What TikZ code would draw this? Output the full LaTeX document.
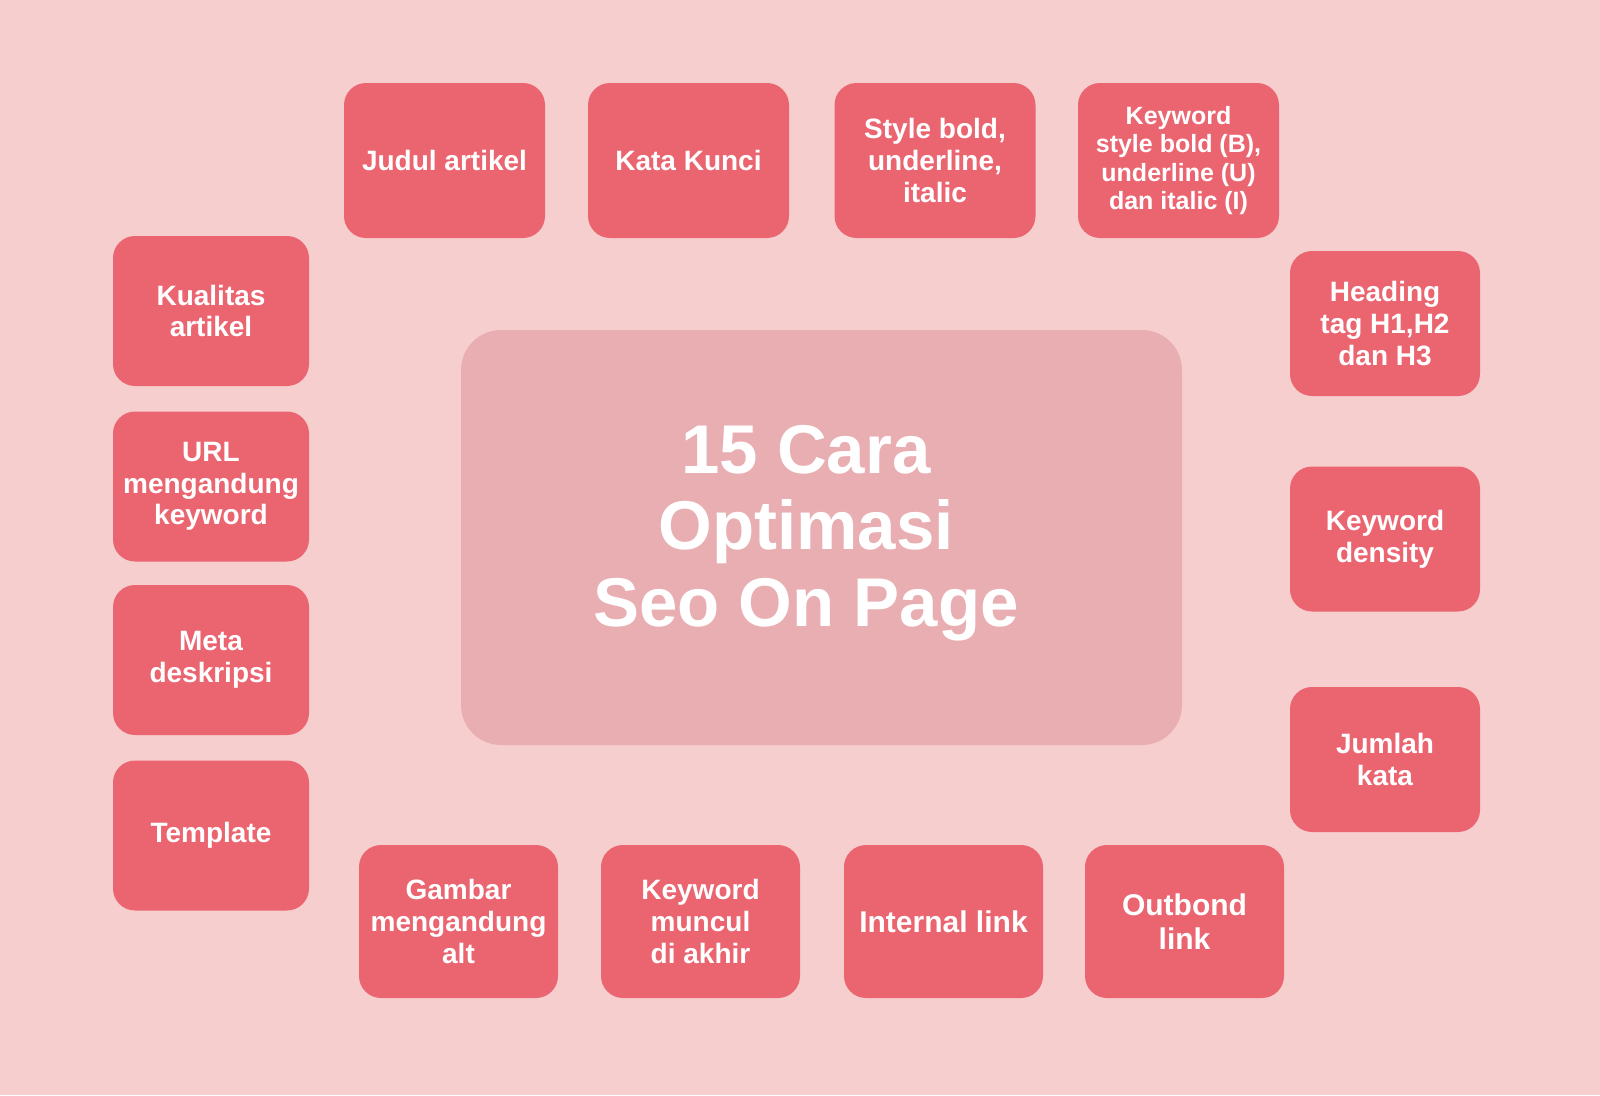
\documentclass[tikz,border=0pt]{standalone}
\usepackage{fontspec}
\setmainfont{Liberation Sans}
\definecolor{bgpink}{HTML}{F7CECE}
\definecolor{tipred}{HTML}{EB6571}
\definecolor{midpink}{HTML}{E9AEB2}
\begin{document}
\begin{tikzpicture}[x=1pt,y=-1pt,
tip/.style={fill=tipred, rounded corners=22pt, inner sep=0pt, align=center,
  text=white, font=\bfseries\fontsize{28}{31.6}\selectfont},
toprow/.style={tip, minimum width=201pt, minimum height=155pt},
botrow/.style={tip, minimum width=199pt, minimum height=153pt},
leftcol/.style={tip, minimum width=196pt, minimum height=150pt},
rightcol/.style={tip, minimum width=190pt, minimum height=145pt}]
\fill[bgpink] (0,0) rectangle (1600,1095);
\fill[midpink, rounded corners=40pt] (461,330) rectangle (1182,745);
\node[text=white, align=center, font=\bfseries\fontsize{69}{76.5}\selectfont] (title) at (806,533) {15 Cara\\Optimasi\\Seo On Page};

% top row
\node[toprow] (judul) at (444.5,160.5) {Judul artikel};
\node[toprow] (kunci) at (688.5,160.5) {Kata Kunci};
\node[toprow] (style) at (935,160.5) {Style bold,\\underline,\\italic};
\node[toprow, font=\bfseries\fontsize{25}{28.5}\selectfont] (kwstyle) at (1178.5,160.5) {Keyword\\style bold (B),\\underline (U)\\dan italic (I)};

% right column
\node[rightcol] (heading) at (1385,323.5) {Heading\\tag H1,H2\\dan H3};
\node[rightcol] (density) at (1385,539) {Keyword\\density};
\node[rightcol] (jumlah) at (1385,759.5) {Jumlah\\kata};

% bottom row
\node[botrow, font=\bfseries\fontsize{30}{33.5}\selectfont] (outbond) at (1184.5,921.5) {Outbond\\link};
\node[botrow, font=\bfseries\fontsize{30}{33.5}\selectfont] (internal) at (943.5,921.5) {Internal link};
\node[botrow] (akhir) at (700.5,921.5) {Keyword\\muncul\\di akhir};
\node[botrow] (gambar) at (458.5,921.5) {Gambar\\mengandung\\alt};

% left column
\node[leftcol] (template) at (211,835.5) {Template};
\node[leftcol] (meta) at (211,660) {Meta\\deskripsi};
\node[leftcol] (url) at (211,486.5) {URL\\mengandung\\keyword};
\node[leftcol] (kualitas) at (211,311) {Kualitas\\artikel};
\end{tikzpicture}
\end{document}
